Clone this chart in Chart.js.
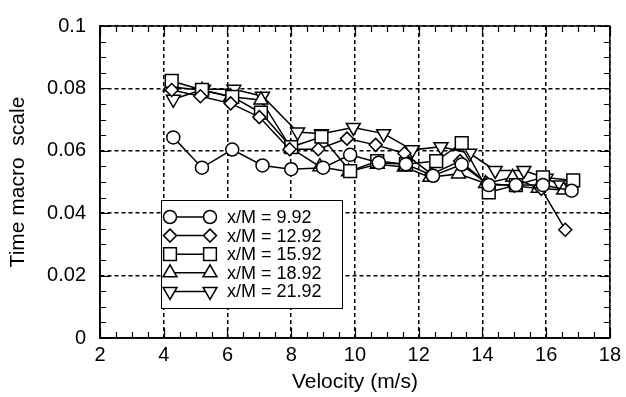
<!DOCTYPE html>
<html>
<head>
<meta charset="utf-8">
<script src="https://cdn.jsdelivr.net/npm/chart.js@4/dist/chart.umd.min.js"></script>
<style>
  html, body { margin: 0; padding: 0; background: #fff; }
  #wrap { width: 626px; height: 397px; }
</style>
</head>
<body>
<div id="wrap"><canvas id="chart" width="626" height="397"></canvas></div>
<script>
// Time macro scale vs velocity, five x/M stations

// Axis ticks
const xTickLabels = ['2', '4', '6', '8', '10', '12', '14', '16', '18'];
const yTickLabels = ['0', '0.02', '0.04', '0.06', '0.08', '0.1'];

// Series
const seriesNames = ['x/M = 9.92', 'x/M = 12.92', 'x/M = 15.92', 'x/M = 18.92', 'x/M = 21.92'];

const vel1 = [4.3, 5.2, 6.15, 7.1, 8.0, 9.0, 9.85, 10.75, 11.6, 12.45, 13.35, 14.2, 15.05, 15.9, 16.8];
const tms1 = [0.0643, 0.0546, 0.0604, 0.0553, 0.0541, 0.0546, 0.0587, 0.0562, 0.0557, 0.052, 0.0556, 0.049, 0.049, 0.049, 0.0472];

const vel2 = [4.25, 5.15, 6.1, 7.0, 7.95, 8.85, 9.75, 10.65, 11.55, 12.4, 13.3, 14.15, 15.0, 15.85, 16.6];
const tms2 = [0.0795, 0.0775, 0.0752, 0.0708, 0.0605, 0.0605, 0.0639, 0.0619, 0.0592, 0.0525, 0.0567, 0.0495, 0.0488, 0.0478, 0.0347];

const vel3 = [4.25, 5.2, 6.15, 7.05, 8.0, 8.95, 9.85, 10.7, 11.6, 12.55, 13.35, 14.2, 15.05, 15.9, 16.85];
const tms3 = [0.0824, 0.0795, 0.0773, 0.0722, 0.0612, 0.0645, 0.0535, 0.0567, 0.0557, 0.0567, 0.0625, 0.0467, 0.049, 0.0515, 0.0505];

const vel4 = [4.2, 5.2, 6.1, 7.05, 8.0, 8.9, 9.8, 10.7, 11.55, 12.35, 13.25, 14.1, 14.95, 15.75, 16.55];
const tms4 = [0.0805, 0.0794, 0.0773, 0.0763, 0.0608, 0.0549, 0.0533, 0.0557, 0.0548, 0.0515, 0.0526, 0.0495, 0.0515, 0.048, 0.0474];

const vel5 = [4.3, 5.25, 6.2, 7.1, 8.2, 8.95, 9.95, 10.9, 11.8, 12.7, 13.6, 14.4, 15.3, 16.0, 16.45];
const tms5 = [0.0765, 0.0797, 0.0797, 0.0775, 0.066, 0.0655, 0.0675, 0.0655, 0.0603, 0.0613, 0.0592, 0.0537, 0.0537, 0.0512, 0.049];

// Marker look per series
const markers = [
  { pointStyle: 'circle', radius: 6.5, rotation: 0 },
  { pointStyle: 'rectRot', radius: 6.5, rotation: 0 },
  { pointStyle: 'rect', radius: 9, rotation: 0 },
  { pointStyle: 'triangle', radius: 8, rotation: 0 },
  { pointStyle: 'triangle', radius: 8, rotation: 180 },
];

const FAMILY = '"Liberation Sans", Arial, Helvetica, sans-serif';
const TICK_FONT = { family: FAMILY, size: 20 };
const TITLE_FONT = { family: FAMILY, size: 21 };
const LEGEND_SIZE = 18;

const zip = (xs, ys) => xs.map((x, i) => ({ x: x, y: ys[i] }));
const allVel = [vel1, vel2, vel3, vel4, vel5];
const allTms = [tms1, tms2, tms3, tms4, tms5];

const datasets = seriesNames.map((name, i) => ({
  label: name,
  data: zip(allVel[i], allTms[i]),
  showLine: true,
  borderColor: '#000',
  borderWidth: 1.5,
  backgroundColor: '#fff',
  pointBackgroundColor: '#fff',
  pointBorderColor: '#000',
  pointBorderWidth: 1.5,
  pointStyle: markers[i].pointStyle,
  pointRadius: markers[i].radius,
  pointRotation: markers[i].rotation,
  tension: 0,
  fill: false,
}));

// draw one legend marker
function drawMarker(ctx, m, x, y) {
  if (Chart.helpers && Chart.helpers.drawPoint) {
    Chart.helpers.drawPoint(ctx, { pointStyle: m.pointStyle, radius: m.radius, rotation: m.rotation, borderWidth: 1.5 }, x, y);
    return;
  }
  ctx.beginPath();
  ctx.arc(x, y, m.radius, 0, Math.PI * 2);
  ctx.fill();
  ctx.stroke();
}

// frame, inner ticks and boxed legend
const decor = {
  id: 'decor',
  afterDatasetsDraw(chart) {
    const ctx = chart.ctx;
    const a = chart.chartArea;
    const xs = chart.scales.x, ys = chart.scales.y;
    ctx.save();
    ctx.strokeStyle = '#000';
    ctx.lineWidth = 1.5;
    ctx.setLineDash([]);
    ctx.strokeRect(a.left, a.top, a.right - a.left, a.bottom - a.top);

    // minor ticks, inward on all sides
    ctx.lineWidth = 1.2;
    ctx.beginPath();
    for (let v = 2; v <= 18.001; v += 0.5) {
      const px = Math.round(xs.getPixelForValue(v)) + 0.5;
      const len = Math.abs(v - Math.round(v / 2) * 2) < 1e-6 ? 10 : 6;
      ctx.moveTo(px, a.bottom); ctx.lineTo(px, a.bottom - len);
      ctx.moveTo(px, a.top); ctx.lineTo(px, a.top + len);
    }
    for (let k = 0; k <= 20; k++) {
      const v = k * 0.005;
      const py = Math.round(ys.getPixelForValue(v)) + 0.5;
      const len = k % 4 === 0 ? 10 : 6;
      ctx.moveTo(a.left, py); ctx.lineTo(a.left + len, py);
      ctx.moveTo(a.right, py); ctx.lineTo(a.right - len, py);
    }
    ctx.stroke();

    // legend box
    const bx = 161, by = 200, bw = 181, bh = 108;
    ctx.fillStyle = '#fff';
    ctx.fillRect(bx, by, bw, bh);
    ctx.lineWidth = 1;
    ctx.strokeRect(bx + 0.5, by + 0.5, bw, bh);
    const x0 = 170, x1 = 210, tx = 227, rowY = 217, rowH = 18.6;
    ctx.font = LEGEND_SIZE + 'px ' + FAMILY;
    ctx.textBaseline = 'middle';
    ctx.textAlign = 'left';
    seriesNames.forEach((name, i) => {
      const y = rowY + i * rowH;
      ctx.strokeStyle = '#000';
      ctx.lineWidth = 1.5;
      ctx.beginPath();
      ctx.moveTo(x0, y); ctx.lineTo(x1, y);
      ctx.stroke();
      ctx.fillStyle = '#fff';
      drawMarker(ctx, markers[i], x0, y);
      drawMarker(ctx, markers[i], x1, y);
      ctx.fillStyle = '#000';
      ctx.fillText(name, tx, y + 1);
    });
    ctx.restore();
  }
};

new Chart(document.getElementById('chart'), {
  type: 'line',
  data: { datasets: datasets },
  options: {
    responsive: false,
    animation: false,
    devicePixelRatio: 1,
    layout: { padding: { left: 0, top: 15, right: 11, bottom: 0 } },
    plugins: { legend: { display: false }, tooltip: { enabled: false } },
    scales: {
      x: {
        type: 'linear',
        min: 2, max: 18,
        afterFit: s => { s.height = 59; },
        ticks: {
          stepSize: 2,
          padding: 5,
          color: '#000',
          font: TICK_FONT,
          maxRotation: 0,
          callback: (v, i) => xTickLabels[i],
        },
        grid: { color: '#000', lineWidth: 1.5, drawTicks: false },
        border: { display: true, color: '#000', width: 1.5, dash: [4, 3] },
        title: { display: true, text: 'Velocity (m/s)', color: '#000', font: TITLE_FONT, padding: { top: 0, bottom: 2 } },
      },
      y: {
        type: 'linear',
        min: 0, max: 0.1,
        afterFit: s => { s.width = 100; },
        ticks: {
          stepSize: 0.02,
          padding: 14,
          color: '#000',
          font: TICK_FONT,
          callback: (v, i) => yTickLabels[i],
        },
        grid: { color: '#000', lineWidth: 1.5, drawTicks: false },
        border: { display: true, color: '#000', width: 1.5, dash: [4, 3] },
        title: { display: true, text: 'Time macro  scale', color: '#000', font: TITLE_FONT, padding: { top: 6, bottom: 0 } },
      },
    },
  },
  plugins: [decor],
});
</script>
</body>
</html>
